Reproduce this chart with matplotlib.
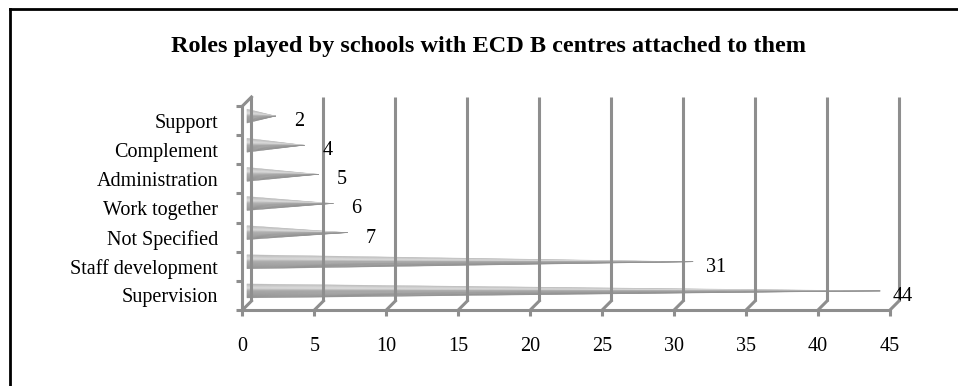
import numpy as np
import matplotlib
matplotlib.use("Agg")
import matplotlib.pyplot as plt
from matplotlib.transforms import ScaledTranslation
from matplotlib.lines import Line2D
from matplotlib.patches import Polygon

plt.rcParams['font.family'] = ['Liberation Serif', 'DejaVu Serif']

# data, bottom to top
roles = ["Supervision", "Staff development", "Not Specified", "Work together",
         "Administration", "Complement", "Support"]
counts = [44, 31, 7, 6, 5, 4, 2]
xticks = list(range(0, 50, 5))
title = "Roles played by schools with ECD B centres attached to them"

W, H = 958, 386
fig = plt.figure(figsize=(W / 100, H / 100), dpi=100)
ax = fig.add_axes([0.2531, 0.1969, 0.6759, 0.5285])
ax.set_xlim(0, 45)
ax.set_ylim(-0.5, len(roles) - 0.5)
for s in ax.spines.values():
    s.set_visible(False)
ax.patch.set_visible(False)

# depth offsets for the pseudo 3d look (inches)
depth = 0.09
back = ax.transData + ScaledTranslation(depth, depth, fig.dpi_scale_trans)
mid = ax.transData + ScaledTranslation(depth / 2, depth / 2, fig.dpi_scale_trans)
grid_col = "#8e8e8e"
lw = 2.2
ytop = len(roles) - 0.5


def depth_edge(x, y):
    # short diagonal joining the front plane to the back wall
    x0, y0 = ax.transData.transform((x, y))
    x1, y1 = back.transform((x, y))
    fig.add_artist(Line2D([x0 / W, x1 / W], [y0 / H, y1 / H],
                          color=grid_col, lw=lw))


# back wall gridlines and floor
for v in xticks:
    ax.plot([v, v], [-0.5, ytop], transform=back, color=grid_col, lw=lw,
            clip_on=False, solid_capstyle="butt")
    depth_edge(v, -0.5)
ax.plot([0, 45], [-0.5, -0.5], color=grid_col, lw=lw, clip_on=False)

# left side wall
ax.plot([0, 0], [-0.5, ytop], color=grid_col, lw=lw, clip_on=False)
depth_edge(0, ytop)

# ticks and labels
fs = 14.5
ax.set_xticks(xticks)
ax.set_xticklabels([str(v) for v in xticks], fontsize=fs)
ax.tick_params(axis="x", direction="out", length=4.3, width=lw, color=grid_col, pad=15.5)
ax.set_yticks(range(len(roles)))
ax.set_yticklabels(roles, fontsize=fs)
ax.tick_params(axis="y", length=0, pad=17.5)
ax.set_yticks(np.arange(-0.5, len(roles), 1.0), minor=True)
ax.tick_params(axis="y", which="minor", direction="out", length=4.3, width=lw,
               color=grid_col)

# cone bars with banded shading
h = 0.24
stops = [0.0, 0.3, 0.5, 1.0]
greys = [0.72, 0.86, 0.66, 0.56]
n = 14
for i, v in enumerate(counts):
    edges = np.linspace(i + h, i - h, n + 1)
    for k in range(n):
        g = np.interp((k + 0.5) / n, stops, greys)
        ax.add_patch(Polygon([(0, edges[k]), (v, i), (0, edges[k + 1])],
                             closed=True, facecolor=(g, g, g), edgecolor=(g, g, g),
                             lw=0.3, transform=mid, clip_on=False))
    ax.text(v, i, str(v), transform=ax.transData +
            ScaledTranslation(0.275, -0.01, fig.dpi_scale_trans),
            ha="center", va="center", fontsize=fs)

fig.text(488 / W, 1 - 52 / H, title, ha="center", va="baseline", fontsize=17.5,
         fontweight="bold")

# frame edges
fig.add_artist(Line2D([9.5 / W, 9.5 / W], [0, 1 - 9 / H], color="black", lw=2))
fig.add_artist(Line2D([9.5 / W, 1], [1 - 9 / H, 1 - 9 / H], color="black", lw=2))

fig.savefig("out.png", dpi=100)
